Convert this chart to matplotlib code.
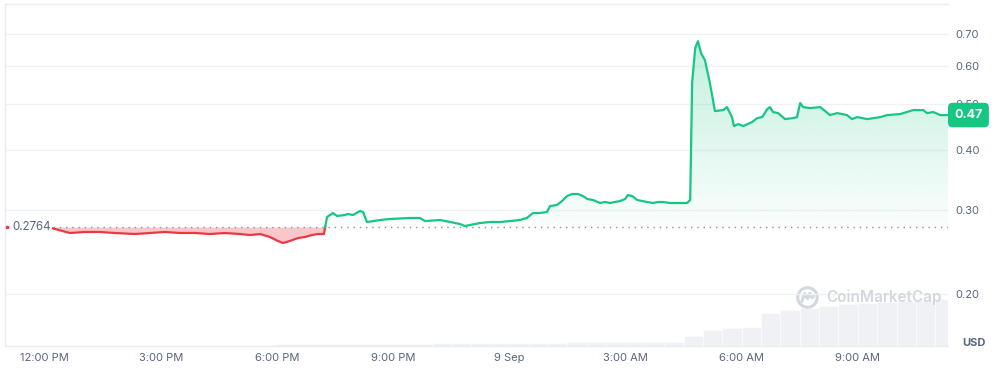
import numpy as np
import matplotlib
matplotlib.use('Agg')
import matplotlib.pyplot as plt
from matplotlib.path import Path
from matplotlib.patches import Circle
from matplotlib.colors import to_rgb
from matplotlib.ticker import FixedLocator, FixedFormatter, NullLocator
import matplotlib.transforms as mtransforms

plt.rcParams['font.family'] = ['Inter', 'DejaVu Sans']

# hours after 12:00 PM, 8 Sep
hours = [0.21, 0.65, 1.03, 1.42, 1.81, 2.33, 2.71, 3.10, 3.49, 3.88, 4.26, 4.65,
         5.04, 5.30, 5.56, 5.81, 6.02, 6.15, 6.33, 6.54, 6.72, 6.90, 7.05, 7.21,
         7.29, 7.44, 7.55, 7.75, 7.83, 7.96, 8.14, 8.22, 8.32, 8.66, 8.91, 9.43,
         9.69, 9.82, 10.21, 10.47, 10.72, 10.85, 10.98, 11.24, 11.50, 11.76, 12.02,
         12.27, 12.45, 12.61, 12.79, 12.97, 13.05, 13.23, 13.36, 13.49, 13.62,
         13.77, 13.90, 14.01, 14.16, 14.34, 14.47, 14.60, 14.73, 14.86, 14.99,
         15.06, 15.17, 15.30, 15.43, 15.56, 15.71, 15.84, 15.97, 16.15, 16.41,
         16.59, 16.67, 16.72, 16.80, 16.87, 16.95, 17.05, 17.18, 17.31, 17.52,
         17.62, 17.75, 17.80, 17.91, 18.04, 18.27, 18.40, 18.53, 18.66, 18.73,
         18.81, 18.94, 19.12, 19.33, 19.43, 19.51, 19.59, 19.77, 20.03, 20.28,
         20.47, 20.72, 20.85, 20.98, 21.24, 21.58, 21.76, 22.09, 22.43, 22.69,
         22.79, 22.95, 23.13, 23.33]
price = [0.2745, 0.2686, 0.2699, 0.2699, 0.2686, 0.2673, 0.2686, 0.2699, 0.2686,
         0.2686, 0.2673, 0.2686, 0.2673, 0.2660, 0.2673, 0.2635, 0.2585, 0.2560,
         0.2585, 0.2622, 0.2635, 0.2660, 0.2673, 0.2673, 0.2901, 0.2957, 0.2915,
         0.2929, 0.2943, 0.2929, 0.2986, 0.2971, 0.2832, 0.2859, 0.2873, 0.2887,
         0.2887, 0.2845, 0.2859, 0.2832, 0.2805, 0.2778, 0.2791, 0.2818, 0.2832,
         0.2832, 0.2845, 0.2859, 0.2887, 0.2957, 0.2957, 0.2971, 0.3058, 0.3073,
         0.3133, 0.3209, 0.3240, 0.3240, 0.3209, 0.3163, 0.3148, 0.3103, 0.3118,
         0.3103, 0.3118, 0.3133, 0.3163, 0.3224, 0.3209, 0.3148, 0.3133, 0.3118,
         0.3103, 0.3118, 0.3118, 0.3103, 0.3103, 0.3103, 0.3148, 0.5524, 0.6537,
         0.6760, 0.6381, 0.6170, 0.5520, 0.4829, 0.4852, 0.4922, 0.4691, 0.4493,
         0.4536, 0.4493, 0.4580, 0.4669, 0.4691, 0.4875, 0.4922, 0.4806, 0.4782,
         0.4646, 0.4669, 0.4691, 0.5018, 0.4922, 0.4899, 0.4922, 0.4737, 0.4782,
         0.4737, 0.4646, 0.4691, 0.4646, 0.4691, 0.4737, 0.4759, 0.4852, 0.4852,
         0.4782, 0.4806, 0.4737, 0.4737]
open_price = 0.2764
last_label = '0.47'

# volume, $M per half hour
vol_hours = [0.25, 0.75, 1.25, 1.75, 2.25, 2.75, 3.25, 3.75, 4.25, 4.75, 5.25, 5.75,
             6.25, 6.75, 7.25, 7.75, 8.25, 8.75, 9.25, 9.75, 10.25, 10.75, 11.25,
             11.75, 12.25, 12.75, 13.25, 13.75, 14.25, 14.75, 15.25, 15.75, 16.25,
             16.75, 17.25, 17.75, 18.25, 18.75, 19.25, 19.75, 20.25, 20.75, 21.25,
             21.75, 22.25, 22.75, 23.25]
volume = [0.12, 0.12, 0.12, 0.12, 0.12, 0.12, 0.12, 0.12, 0.12, 0.12, 0.13, 0.14,
          0.15, 0.15, 0.17, 0.22, 0.22, 0.22, 0.23, 0.24, 0.27, 0.27, 0.28, 0.3, 0.31,
          0.32, 0.34, 0.38, 0.39, 0.4, 0.41, 0.43, 0.44, 1.0, 1.6, 1.8, 1.9, 3.3,
          3.6, 3.8, 4.0, 4.2, 4.3, 4.4, 4.5, 4.6, 4.7]

tick_hours = [0, 3, 6, 9, 12, 15, 18, 21]
tick_labels = ['12:00 PM', '3:00 PM', '6:00 PM', '9:00 PM', '9 Sep',
               '3:00 AM', '6:00 AM', '9:00 AM']
y_ticks = [0.20, 0.30, 0.40, 0.50, 0.60, 0.70]

GREEN = '#16c784'
RED = '#ea3943'
GREY = '#58667e'
GRID = '#eff2f5'

t = np.array(hours)
p = np.array(price)

fig = plt.figure(figsize=(9.93, 3.70), dpi=100)
ax = fig.add_axes([0.005, 0.065, 0.9497, 0.924])
ax_v = ax.twinx()
ax.set_zorder(ax_v.get_zorder() + 1)
ax.patch.set_visible(False)

# volume bars
ax_v.bar(vol_hours, volume, width=0.5, color='#eff1f4', edgecolor='white', linewidth=0.4)
ax_v.set_ylim(0, 34.2)
ax_v.set_yticks([])
for s in ax_v.spines.values():
    s.set_visible(False)

ax.set_yscale('log')
ax.set_xlim(-1.03, 23.33)
ax.set_ylim(0.156, 0.808)

# split at the crossing of the open price
i = int(np.argmax(p >= open_price))
tc = t[i - 1] + (open_price - p[i - 1]) / (p[i] - p[i - 1]) * (t[i] - t[i - 1])
t_red = np.append(t[:i], tc)
p_red = np.append(p[:i], open_price)
t_grn = np.insert(t[i:], 0, tc)
p_grn = np.insert(p[i:], 0, open_price)

ax.fill_between(t_red, p_red, open_price, color=RED, alpha=0.28, lw=0, zorder=2)

fb = ax.fill_between(t_grn, p_grn, open_price, facecolor='none', edgecolor='none')
frac = np.linspace(0, 1, 300)[:, None]
grad = np.zeros((300, 1, 4))
grad[..., :3] = to_rgb(GREEN)
grad[..., 3] = 0.02 + np.clip((frac - 0.348) / (0.9 - 0.348), 0, 1) * 0.25
im = ax.imshow(grad, extent=[0, 1, 0, 1], transform=ax.transAxes, origin='lower',
               aspect='auto', zorder=2, interpolation='bilinear')
im.set_clip_path(Path.make_compound_path(*fb.get_paths()), transform=ax.transData)
ax.set_xlim(-1.03, 23.33)
ax.set_ylim(0.156, 0.808)

ax.hlines(open_price, t[0], 23.33, colors='#8a919e', linestyles=(0, (1, 3.5)),
          lw=1, zorder=3)
ax.plot(t_red, p_red, color=RED, lw=1.6, zorder=4, solid_joinstyle='round')
ax.plot(t_grn, p_grn, color=GREEN, lw=1.6, zorder=4, solid_joinstyle='round')

# axes styling
ax.yaxis.tick_right()
ax.yaxis.set_major_locator(FixedLocator(y_ticks))
ax.yaxis.set_major_formatter(FixedFormatter(['%.2f' % v for v in y_ticks]))
ax.yaxis.set_minor_locator(NullLocator())
ax.set_xticks(tick_hours)
ax.set_xticklabels(tick_labels)
ax.tick_params(axis='both', length=0, labelsize=8, labelcolor=GREY)
ax.tick_params(axis='x', pad=5)
ax.tick_params(axis='y', pad=5)
ax.yaxis.grid(True, color=GRID, lw=1)
ax.set_axisbelow(True)
for side in ['top', 'left', 'bottom']:
    ax.spines[side].set_color('#e9ecf0')
    ax.spines[side].set_linewidth(1)
ax.spines['right'].set_visible(False)

# open price marker and label
blend = mtransforms.blended_transform_factory(ax.transAxes, ax.transData)
ax.plot([0.002], [open_price], marker='s', ms=2, color=RED, transform=blend,
        clip_on=False, zorder=5)
ax.text(0.0075, open_price, '%.4f' % open_price, transform=blend, ha='left',
        va='center', fontsize=8.3, color=GREY, zorder=5)

# last price badge
ax.annotate(last_label, xy=(1, p[-1]), xycoords=('axes fraction', 'data'),
            xytext=(4.5, 0), textcoords='offset points', ha='left', va='center',
            fontsize=9, fontweight='bold', color='white', zorder=6,
            annotation_clip=False,
            bbox=dict(boxstyle='round,pad=0.5,rounding_size=0.35', fc=GREEN, ec='none'))

fig.text(962 / 993, 1 - 343 / 370, 'USD', fontsize=8, fontweight='bold',
         color=GREY, va='center', ha='left')

# watermark
fig.text(826 / 993, 1 - 297 / 370, 'CoinMarketCap', fontsize=11, fontweight='semibold',
         color='#d3d8df', va='center', ha='left')
logo = fig.add_axes([796 / 993, 1 - 309 / 370, 23 / 993, 23 / 370])
logo.set_xlim(-1, 1)
logo.set_ylim(-1, 1)
logo.set_aspect('equal')
logo.axis('off')
logo.add_patch(Circle((0, 0), 0.85, fill=False, ec='#d3d8df', lw=2.2))
logo.plot([-0.5, -0.25, 0.0, 0.2, 0.4, 0.55], [-0.35, 0.35, -0.1, 0.35, 0.0, 0.1],
          color='#d3d8df', lw=2.2, solid_joinstyle='round', solid_capstyle='round')

fig.savefig('out.png', dpi=100)
